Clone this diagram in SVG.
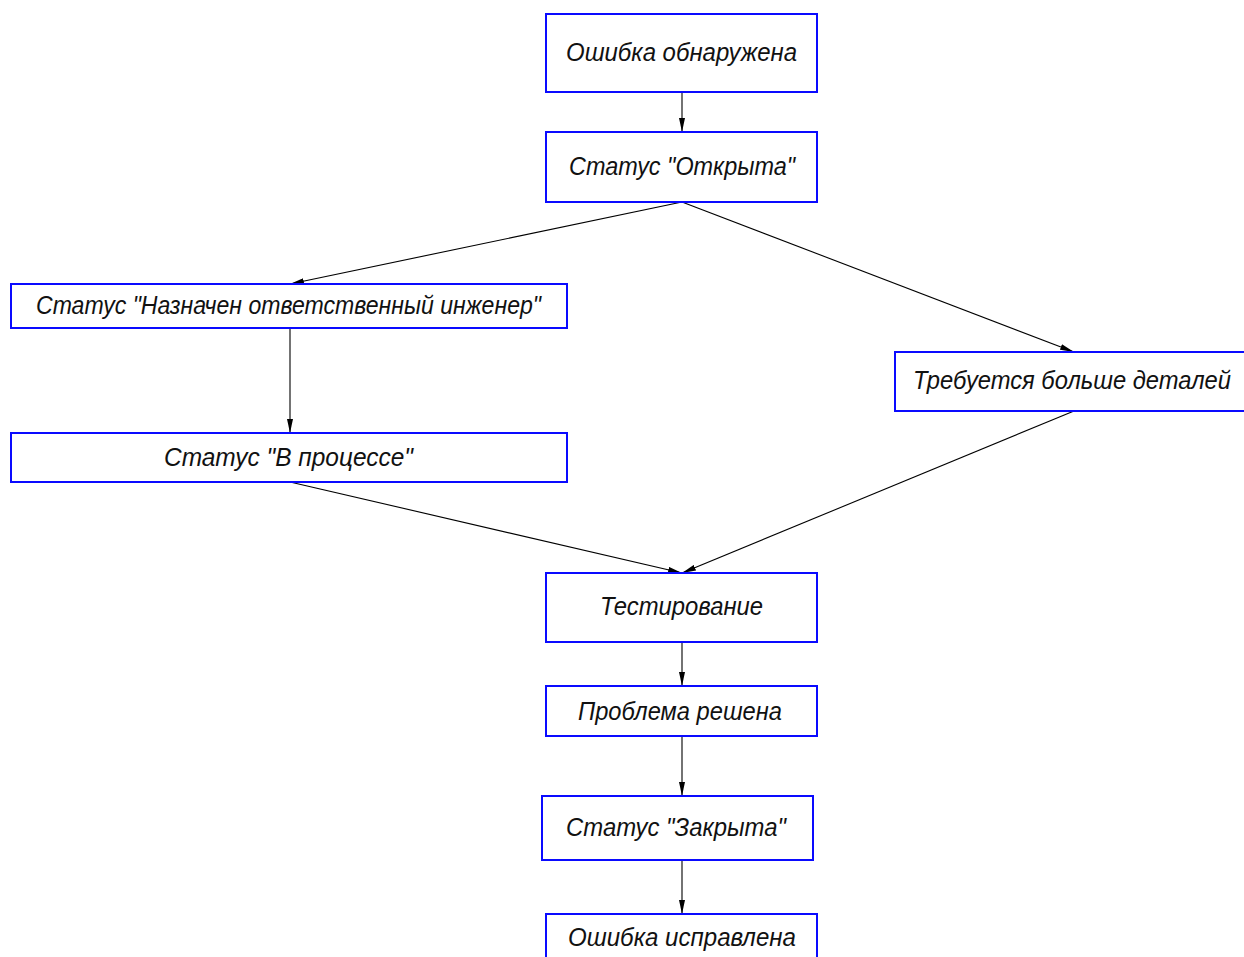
<svg xmlns="http://www.w3.org/2000/svg" width="1244" height="957" viewBox="0 0 1244 957">
<style>
.box{fill:#fff;stroke:#0a0aff;stroke-width:2}
.t{font-family:"Liberation Sans",Arial,sans-serif;font-style:italic;font-size:25px;fill:#111;text-anchor:start}
.c{stroke:#000;stroke-width:1.1;fill:none;marker-end:url(#ah)}
</style>
<defs>
<marker id="ah" viewBox="0 0 14 6" refX="14" refY="3" markerWidth="14" markerHeight="6" markerUnits="userSpaceOnUse" orient="auto">
<path d="M0,0 L14,3 L0,6 Z" fill="#000"/>
</marker>
</defs>
<rect width="1244" height="957" fill="#fff"/>
<g id="connectors">
<line class="c" x1="682" y1="92" x2="682" y2="132"/>
<line class="c" x1="682" y1="202" x2="290" y2="284"/>
<line class="c" x1="682" y1="202" x2="1074" y2="352"/>
<line class="c" x1="290" y1="328" x2="290" y2="433"/>
<line class="c" x1="290" y1="482" x2="682" y2="573"/>
<line class="c" x1="1074" y1="411" x2="682" y2="573"/>
<line class="c" x1="682" y1="642" x2="682" y2="686"/>
<line class="c" x1="682" y1="736" x2="682" y2="796"/>
<line class="c" x1="682" y1="860" x2="682" y2="914"/>
</g>
<g id="n1"><rect class="box" x="546" y="14" width="271" height="78"/><text class="t" x="566" y="61" textLength="231" lengthAdjust="spacingAndGlyphs">Ошибка обнаружена</text></g>
<g id="n2"><rect class="box" x="546" y="132" width="271" height="70"/><text class="t" x="569" y="175" textLength="226" lengthAdjust="spacingAndGlyphs">Статус "Открыта"</text></g>
<g id="n3"><rect class="box" x="11" y="284" width="556" height="44"/><text class="t" x="36" y="314" textLength="505" lengthAdjust="spacingAndGlyphs">Статус "Назначен ответственный инженер"</text></g>
<g id="n4"><rect class="box" x="895" y="352" width="352" height="59"/><text class="t" x="913" y="389" textLength="318" lengthAdjust="spacingAndGlyphs">Требуется больше деталей</text></g>
<g id="n5"><rect class="box" x="11" y="433" width="556" height="49"/><text class="t" x="164" y="466" textLength="249" lengthAdjust="spacingAndGlyphs">Статус "В процессе"</text></g>
<g id="n6"><rect class="box" x="546" y="573" width="271" height="69"/><text class="t" x="600" y="615" textLength="163" lengthAdjust="spacingAndGlyphs">Тестирование</text></g>
<g id="n7"><rect class="box" x="546" y="686" width="271" height="50"/><text class="t" x="578" y="720" textLength="204" lengthAdjust="spacingAndGlyphs">Проблема решена</text></g>
<g id="n8"><rect class="box" x="542" y="796" width="271" height="64"/><text class="t" x="566" y="836" textLength="220" lengthAdjust="spacingAndGlyphs">Статус "Закрыта"</text></g>
<g id="n9"><rect class="box" x="546" y="914" width="271" height="60"/><text class="t" x="568" y="946" textLength="228" lengthAdjust="spacingAndGlyphs">Ошибка исправлена</text></g>
</svg>
